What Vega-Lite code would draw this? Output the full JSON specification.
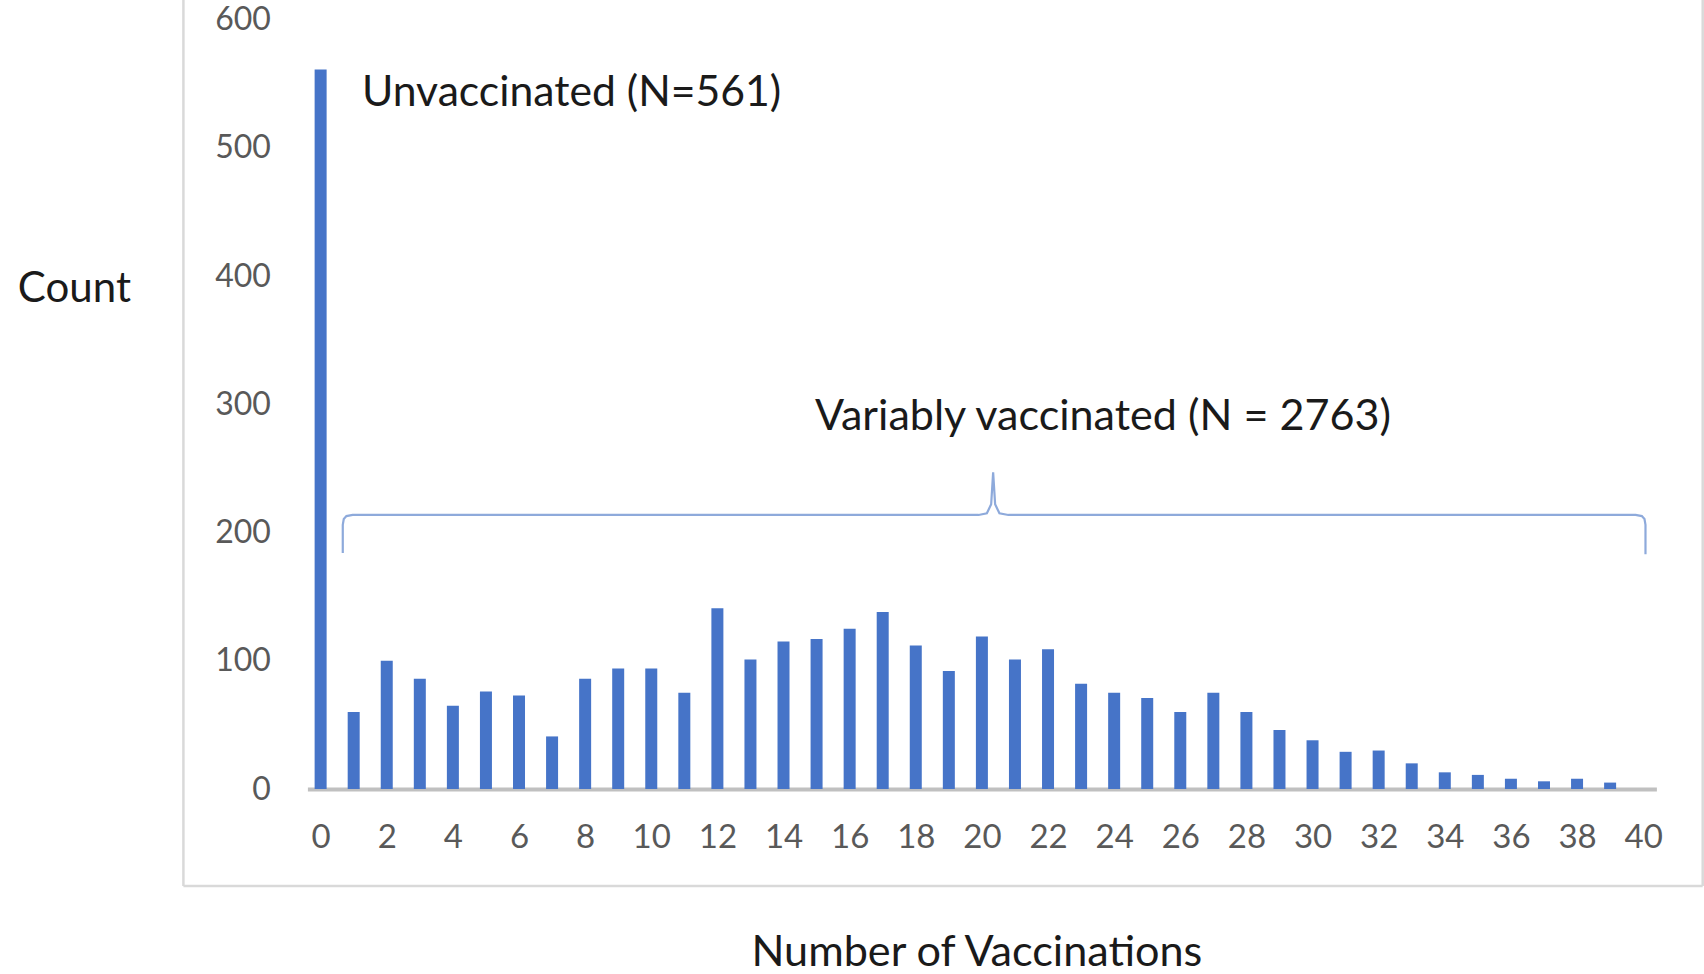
{
  "$schema": "https://vega.github.io/schema/vega-lite/v6.json",
  "autosize": "none",
  "width": 1349,
  "height": 769.4,
  "padding": {"left": 307.4, "top": 19.6, "right": 47.6, "bottom": 185},
  "background": "white",
  "config": {
    "view": {"stroke": null},
    "font": "Lato",
    "scale": {"continuousPadding": 0}
  },
  "datasets": {
    "bars": [
      {"n": 0, "count": 561}, {"n": 1, "count": 60}, {"n": 2, "count": 100}, {"n": 3, "count": 86},
      {"n": 4, "count": 65}, {"n": 5, "count": 76}, {"n": 6, "count": 73}, {"n": 7, "count": 41},
      {"n": 8, "count": 86}, {"n": 9, "count": 94}, {"n": 10, "count": 94}, {"n": 11, "count": 75},
      {"n": 12, "count": 141}, {"n": 13, "count": 101}, {"n": 14, "count": 115}, {"n": 15, "count": 117},
      {"n": 16, "count": 125}, {"n": 17, "count": 138}, {"n": 18, "count": 112}, {"n": 19, "count": 92},
      {"n": 20, "count": 119}, {"n": 21, "count": 101}, {"n": 22, "count": 109}, {"n": 23, "count": 82},
      {"n": 24, "count": 75}, {"n": 25, "count": 71}, {"n": 26, "count": 60}, {"n": 27, "count": 75},
      {"n": 28, "count": 60}, {"n": 29, "count": 46}, {"n": 30, "count": 38}, {"n": 31, "count": 29},
      {"n": 32, "count": 30}, {"n": 33, "count": 20}, {"n": 34, "count": 13}, {"n": 35, "count": 11},
      {"n": 36, "count": 8}, {"n": 37, "count": 6}, {"n": 38, "count": 8}, {"n": 39, "count": 5}
    ],
    "brace": [
      {"i": 1, "x": 0.67, "y": 184}, {"i": 2, "x": 0.67, "y": 206}, {"i": 3, "x": 0.70, "y": 210.5},
      {"i": 4, "x": 0.78, "y": 212.8}, {"i": 5, "x": 0.97, "y": 213.7}, {"i": 6, "x": 19.9, "y": 213.7},
      {"i": 7, "x": 20.15, "y": 215}, {"i": 8, "x": 20.28, "y": 222}, {"i": 9, "x": 20.34, "y": 247},
      {"i": 10, "x": 20.40, "y": 222}, {"i": 11, "x": 20.53, "y": 215}, {"i": 12, "x": 20.8, "y": 213.7},
      {"i": 13, "x": 39.77, "y": 213.7}, {"i": 14, "x": 39.96, "y": 212.8}, {"i": 15, "x": 40.04, "y": 210.5},
      {"i": 16, "x": 40.07, "y": 206}, {"i": 17, "x": 40.07, "y": 183}
    ],
    "notes": [
      {"label": "Unvaccinated (N=561)", "group": "a", "x": 1.25, "y": 543},
      {"label": "Variably vaccinated (N = 2763)", "group": "b", "x": 14.95, "y": 290}
    ],
    "frame": [
      {"x": -4.15, "x2": -4.15, "y": -75.7, "y2": 640},
      {"x": -4.15, "x2": 41.8, "y": -75.7, "y2": -75.7},
      {"x": 41.8, "x2": 41.8, "y": -75.7, "y2": 640}
    ]
  },
  "layer": [
    {
      "data": {"name": "frame"},
      "mark": {"type": "rule", "color": "#d9d9d9", "strokeWidth": 2.5},
      "encoding": {
        "x": {"field": "x", "type": "quantitative", "scale": {"domain": [-0.4, 40.4], "nice": false, "zero": false, "padding": 0}},
        "x2": {"field": "x2"},
        "y": {"field": "y", "type": "quantitative", "scale": {"domain": [0, 600], "nice": false, "padding": 0}},
        "y2": {"field": "y2"}
      }
    },
    {
      "data": {"name": "bars"},
      "mark": {"type": "bar", "size": 12, "color": "#4674c8"},
      "encoding": {
        "x": {
          "field": "n", "type": "quantitative",
          "scale": {"domain": [-0.4, 40.4], "nice": false, "zero": false, "padding": 0},
          "axis": {
            "values": [0,2,4,6,8,10,12,14,16,18,20,22,24,26,28,30,32,34,36,38,40],
            "title": "Number of Vaccinations",
            "titleFont": "Lato", "titleFontSize": 43.2, "titleFontWeight": "normal", "titleColor": "#1a1a1a",
            "titleAnchor": "start", "titleAlign": "center", "titleBaseline": "middle",
            "titleX": 669, "titleY": 163,
            "labelFont": "Lato", "labelFontSize": 33, "labelColor": "#595959", "labelPadding": 32,
            "labelFlush": false, "labelOverlap": false,
            "domain": true, "domainColor": "#c0c0c0", "domainWidth": 4,
            "ticks": false, "grid": false
          }
        },
        "y": {
          "field": "count", "type": "quantitative",
          "scale": {"domain": [0, 600], "nice": false, "padding": 0},
          "axis": {
            "values": [0,100,200,300,400,500,600],
            "title": "Count",
            "titleFont": "Lato", "titleFontSize": 42, "titleFontWeight": "normal", "titleColor": "#1a1a1a",
            "titleAngle": 0, "titleAlign": "center", "titleBaseline": "middle",
            "titleX": -233.5, "titleY": 268.4,
            "labelFont": "Lato", "labelFontSize": 32, "labelColor": "#595959", "labelPadding": 37,
            "labelFlush": false, "labelOverlap": false,
            "domain": false, "ticks": false, "grid": false
          }
        }
      }
    },
    {
      "data": {"name": "brace"},
      "mark": {"type": "line", "color": "#8eaadb", "strokeWidth": 2.2, "interpolate": "linear"},
      "encoding": {
        "x": {"field": "x", "type": "quantitative"},
        "y": {"field": "y", "type": "quantitative"},
        "order": {"field": "i", "type": "quantitative"}
      }
    },
    {
      "data": {"name": "notes"},
      "transform": [{"filter": "datum.group === 'a'"}],
      "mark": {"type": "text", "font": "Lato", "fontSize": 42.7, "color": "#1a1a1a", "align": "left", "baseline": "middle"},
      "encoding": {
        "x": {"field": "x", "type": "quantitative"},
        "y": {"field": "y", "type": "quantitative"},
        "text": {"field": "label", "type": "nominal"}
      }
    },
    {
      "data": {"name": "notes"},
      "transform": [{"filter": "datum.group === 'b'"}],
      "mark": {"type": "text", "font": "Lato", "fontSize": 43.1, "color": "#1a1a1a", "align": "left", "baseline": "middle"},
      "encoding": {
        "x": {"field": "x", "type": "quantitative"},
        "y": {"field": "y", "type": "quantitative"},
        "text": {"field": "label", "type": "nominal"}
      }
    }
  ]
}
